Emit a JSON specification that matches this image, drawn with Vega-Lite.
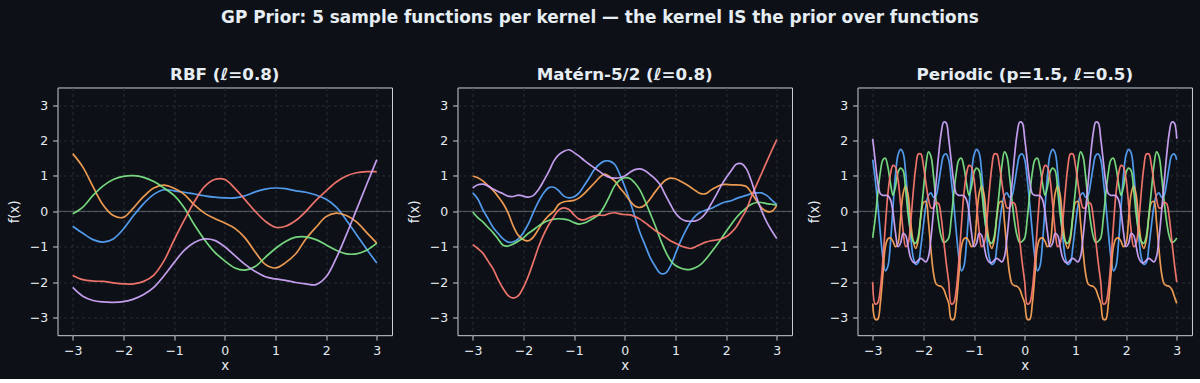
{
  "$schema": "https://vega.github.io/schema/vega-lite/v6.json",
  "background": "#0d1117",
  "padding": {"left": 6.5, "top": 8.5, "right": 6, "bottom": 6},
  "title": {
    "text": "GP Prior: 5 sample functions per kernel — the kernel IS the prior over functions",
    "anchor": "middle",
    "fontSize": 16.9,
    "offset": 39
  },
  "spacing": 65,
  "bounds": "flush",
  "datasets": {
    "rbf": [
      {"x": -3.0, "b": -0.42, "o": 1.63, "g": -0.07, "r": -1.81, "p": -2.15},
      {"x": -2.8, "b": -0.62, "o": 1.25, "g": 0.12, "r": -1.93, "p": -2.4},
      {"x": -2.6, "b": -0.8, "o": 0.7, "g": 0.45, "r": -1.97, "p": -2.52},
      {"x": -2.4, "b": -0.87, "o": 0.18, "g": 0.72, "r": -1.98, "p": -2.56},
      {"x": -2.2, "b": -0.78, "o": -0.12, "g": 0.9, "r": -2.02, "p": -2.57},
      {"x": -2.0, "b": -0.5, "o": -0.17, "g": 0.99, "r": -2.05, "p": -2.55},
      {"x": -1.8, "b": -0.12, "o": 0.1, "g": 1.01, "r": -2.05, "p": -2.48},
      {"x": -1.6, "b": 0.22, "o": 0.42, "g": 0.96, "r": -1.98, "p": -2.35},
      {"x": -1.4, "b": 0.48, "o": 0.66, "g": 0.84, "r": -1.8, "p": -2.15},
      {"x": -1.2, "b": 0.61, "o": 0.74, "g": 0.66, "r": -1.4, "p": -1.82},
      {"x": -1.0, "b": 0.58, "o": 0.65, "g": 0.45, "r": -0.81, "p": -1.45},
      {"x": -0.8, "b": 0.54, "o": 0.48, "g": 0.1, "r": -0.25, "p": -1.1},
      {"x": -0.6, "b": 0.49, "o": 0.18, "g": -0.38, "r": 0.27, "p": -0.88},
      {"x": -0.4, "b": 0.44, "o": -0.05, "g": -0.8, "r": 0.7, "p": -0.78},
      {"x": -0.2, "b": 0.4, "o": -0.2, "g": -1.15, "r": 0.9, "p": -0.82},
      {"x": 0.0, "b": 0.38, "o": -0.33, "g": -1.4, "r": 0.9, "p": -1.0},
      {"x": 0.2, "b": 0.38, "o": -0.48, "g": -1.6, "r": 0.65, "p": -1.25},
      {"x": 0.4, "b": 0.44, "o": -0.75, "g": -1.66, "r": 0.33, "p": -1.5},
      {"x": 0.6, "b": 0.55, "o": -1.15, "g": -1.56, "r": 0.0, "p": -1.7},
      {"x": 0.8, "b": 0.63, "o": -1.5, "g": -1.3, "r": -0.28, "p": -1.85},
      {"x": 1.0, "b": 0.66, "o": -1.6, "g": -1.05, "r": -0.45, "p": -1.91},
      {"x": 1.2, "b": 0.64, "o": -1.45, "g": -0.85, "r": -0.42, "p": -1.95},
      {"x": 1.4, "b": 0.58, "o": -1.2, "g": -0.73, "r": -0.26, "p": -2.01},
      {"x": 1.6, "b": 0.54, "o": -0.78, "g": -0.72, "r": 0.0, "p": -2.05},
      {"x": 1.8, "b": 0.46, "o": -0.45, "g": -0.8, "r": 0.31, "p": -2.07},
      {"x": 2.0, "b": 0.34, "o": -0.15, "g": -0.95, "r": 0.58, "p": -1.85},
      {"x": 2.2, "b": 0.12, "o": -0.05, "g": -1.1, "r": 0.83, "p": -1.32},
      {"x": 2.4, "b": -0.25, "o": -0.12, "g": -1.2, "r": 1.0, "p": -0.66},
      {"x": 2.6, "b": -0.66, "o": -0.3, "g": -1.2, "r": 1.09, "p": 0.05},
      {"x": 2.8, "b": -1.07, "o": -0.6, "g": -1.1, "r": 1.12, "p": 0.76},
      {"x": 3.0, "b": -1.46, "o": -0.9, "g": -0.9, "r": 1.12, "p": 1.46}
    ],
    "matern": [
      {"x": -3.0, "b": 0.52, "o": 1.0, "g": -0.02, "r": -0.94, "p": 0.66},
      {"x": -2.9, "b": 0.35, "o": 0.95, "g": -0.18, "r": -1.05, "p": 0.75},
      {"x": -2.8, "b": 0.05, "o": 0.86, "g": -0.3, "r": -1.18, "p": 0.77},
      {"x": -2.7, "b": -0.2, "o": 0.73, "g": -0.45, "r": -1.4, "p": 0.72},
      {"x": -2.6, "b": -0.45, "o": 0.6, "g": -0.6, "r": -1.62, "p": 0.63},
      {"x": -2.5, "b": -0.62, "o": 0.42, "g": -0.78, "r": -1.92, "p": 0.56},
      {"x": -2.4, "b": -0.78, "o": 0.22, "g": -0.96, "r": -2.18, "p": 0.5},
      {"x": -2.3, "b": -0.87, "o": -0.05, "g": -0.98, "r": -2.38, "p": 0.43},
      {"x": -2.2, "b": -0.86, "o": -0.42, "g": -0.92, "r": -2.45, "p": 0.42},
      {"x": -2.1, "b": -0.78, "o": -0.68, "g": -0.84, "r": -2.38, "p": 0.46},
      {"x": -2.0, "b": -0.6, "o": -0.8, "g": -0.75, "r": -2.15, "p": 0.43},
      {"x": -1.9, "b": -0.35, "o": -0.83, "g": -0.62, "r": -1.82, "p": 0.4},
      {"x": -1.8, "b": -0.02, "o": -0.72, "g": -0.52, "r": -1.42, "p": 0.45},
      {"x": -1.7, "b": 0.28, "o": -0.5, "g": -0.41, "r": -1.0, "p": 0.62},
      {"x": -1.6, "b": 0.52, "o": -0.28, "g": -0.32, "r": -0.66, "p": 0.86},
      {"x": -1.5, "b": 0.67, "o": -0.12, "g": -0.26, "r": -0.38, "p": 1.12},
      {"x": -1.4, "b": 0.68, "o": 0.0, "g": -0.22, "r": -0.15, "p": 1.42},
      {"x": -1.3, "b": 0.58, "o": 0.2, "g": -0.21, "r": 0.04, "p": 1.6},
      {"x": -1.2, "b": 0.43, "o": 0.27, "g": -0.22, "r": 0.1, "p": 1.7},
      {"x": -1.1, "b": 0.38, "o": 0.29, "g": -0.25, "r": 0.05, "p": 1.74},
      {"x": -1.0, "b": 0.41, "o": 0.31, "g": -0.32, "r": -0.1, "p": 1.66},
      {"x": -0.9, "b": 0.52, "o": 0.38, "g": -0.36, "r": -0.22, "p": 1.56},
      {"x": -0.8, "b": 0.73, "o": 0.5, "g": -0.33, "r": -0.24, "p": 1.44},
      {"x": -0.7, "b": 0.95, "o": 0.65, "g": -0.26, "r": -0.18, "p": 1.33},
      {"x": -0.6, "b": 1.18, "o": 0.8, "g": -0.18, "r": -0.13, "p": 1.23},
      {"x": -0.5, "b": 1.33, "o": 0.95, "g": -0.07, "r": -0.11, "p": 1.13},
      {"x": -0.4, "b": 1.42, "o": 1.05, "g": 0.15, "r": -0.11, "p": 1.03},
      {"x": -0.3, "b": 1.42, "o": 0.98, "g": 0.43, "r": -0.06, "p": 0.96},
      {"x": -0.2, "b": 1.33, "o": 0.86, "g": 0.72, "r": -0.04, "p": 0.94},
      {"x": -0.1, "b": 1.05, "o": 0.67, "g": 0.88, "r": -0.07, "p": 0.95},
      {"x": 0.0, "b": 0.7, "o": 0.5, "g": 0.95, "r": -0.09, "p": 1.0},
      {"x": 0.1, "b": 0.3, "o": 0.3, "g": 0.93, "r": -0.1, "p": 1.1},
      {"x": 0.2, "b": -0.15, "o": 0.15, "g": 0.8, "r": -0.15, "p": 1.18},
      {"x": 0.3, "b": -0.6, "o": 0.11, "g": 0.6, "r": -0.22, "p": 1.2},
      {"x": 0.4, "b": -0.95, "o": 0.18, "g": 0.3, "r": -0.32, "p": 1.15},
      {"x": 0.5, "b": -1.3, "o": 0.35, "g": -0.05, "r": -0.43, "p": 1.04},
      {"x": 0.6, "b": -1.55, "o": 0.55, "g": -0.4, "r": -0.54, "p": 0.92},
      {"x": 0.7, "b": -1.75, "o": 0.73, "g": -0.78, "r": -0.63, "p": 0.75},
      {"x": 0.8, "b": -1.75, "o": 0.88, "g": -1.12, "r": -0.73, "p": 0.47},
      {"x": 0.9, "b": -1.55, "o": 0.94, "g": -1.38, "r": -0.83, "p": 0.2},
      {"x": 1.0, "b": -1.2, "o": 0.92, "g": -1.53, "r": -0.9, "p": -0.05},
      {"x": 1.1, "b": -0.85, "o": 0.85, "g": -1.6, "r": -0.97, "p": -0.2},
      {"x": 1.2, "b": -0.55, "o": 0.77, "g": -1.64, "r": -1.02, "p": -0.27},
      {"x": 1.3, "b": -0.3, "o": 0.68, "g": -1.64, "r": -1.05, "p": -0.28},
      {"x": 1.4, "b": -0.12, "o": 0.58, "g": -1.59, "r": -1.0, "p": -0.27},
      {"x": 1.5, "b": -0.02, "o": 0.5, "g": -1.5, "r": -0.93, "p": -0.2},
      {"x": 1.6, "b": 0.04, "o": 0.5, "g": -1.35, "r": -0.87, "p": -0.05},
      {"x": 1.7, "b": 0.08, "o": 0.6, "g": -1.17, "r": -0.83, "p": 0.2},
      {"x": 1.8, "b": 0.15, "o": 0.68, "g": -0.98, "r": -0.81, "p": 0.45},
      {"x": 1.9, "b": 0.22, "o": 0.75, "g": -0.78, "r": -0.78, "p": 0.72},
      {"x": 2.0, "b": 0.27, "o": 0.76, "g": -0.57, "r": -0.72, "p": 0.95},
      {"x": 2.1, "b": 0.3, "o": 0.75, "g": -0.37, "r": -0.6, "p": 1.15},
      {"x": 2.2, "b": 0.36, "o": 0.75, "g": -0.18, "r": -0.44, "p": 1.33},
      {"x": 2.3, "b": 0.41, "o": 0.74, "g": -0.03, "r": -0.2, "p": 1.35},
      {"x": 2.4, "b": 0.45, "o": 0.7, "g": 0.1, "r": 0.05, "p": 1.2},
      {"x": 2.5, "b": 0.5, "o": 0.52, "g": 0.2, "r": 0.42, "p": 0.85},
      {"x": 2.6, "b": 0.52, "o": 0.3, "g": 0.25, "r": 0.75, "p": 0.4},
      {"x": 2.7, "b": 0.52, "o": 0.1, "g": 0.25, "r": 1.07, "p": 0.02},
      {"x": 2.8, "b": 0.45, "o": 0.0, "g": 0.22, "r": 1.4, "p": -0.3},
      {"x": 2.9, "b": 0.32, "o": 0.0, "g": 0.2, "r": 1.72, "p": -0.55},
      {"x": 3.0, "b": 0.19, "o": 0.17, "g": 0.18, "r": 2.03, "p": -0.77}
    ],
    "periodic": [
      {"x": -3.0, "b": 1.46, "o": -2.6, "g": -0.75, "r": -2.0, "p": 2.05},
      {"x": -2.95, "b": 0.9, "o": -3.05, "g": -0.2, "r": -2.62, "p": 1.42},
      {"x": -2.9, "b": 0.2, "o": -3.05, "g": 0.5, "r": -2.58, "p": 0.82},
      {"x": -2.85, "b": -0.6, "o": -2.6, "g": 1.1, "r": -2.2, "p": 0.5},
      {"x": -2.8, "b": -1.3, "o": -1.8, "g": 1.45, "r": -1.4, "p": 0.45},
      {"x": -2.75, "b": -1.68, "o": -1.0, "g": 1.5, "r": -0.4, "p": 0.45},
      {"x": -2.7, "b": -1.55, "o": -0.78, "g": 1.25, "r": 0.5, "p": 0.44},
      {"x": -2.65, "b": -0.9, "o": -0.75, "g": 0.8, "r": 1.05, "p": 0.33},
      {"x": -2.6, "b": 0.1, "o": -0.85, "g": 0.45, "r": 1.3, "p": -0.02},
      {"x": -2.55, "b": 1.05, "o": -1.0, "g": 0.7, "r": 1.25, "p": -0.6},
      {"x": -2.5, "b": 1.6, "o": -0.9, "g": 1.1, "r": 0.9, "p": -1.0},
      {"x": -2.45, "b": 1.75, "o": -0.2, "g": 1.22, "r": 0.2, "p": -0.9},
      {"x": -2.4, "b": 1.65, "o": 0.5, "g": 1.15, "r": -0.55, "p": -0.62},
      {"x": -2.35, "b": 1.1, "o": 0.72, "g": 0.6, "r": -1.0, "p": -0.68},
      {"x": -2.3, "b": 0.2, "o": 0.45, "g": -0.1, "r": -0.9, "p": -1.0},
      {"x": -2.25, "b": -0.7, "o": -0.3, "g": -0.6, "r": -0.3, "p": -1.32},
      {"x": -2.2, "b": -1.3, "o": -0.85, "g": -0.85, "r": 0.55, "p": -1.44},
      {"x": -2.15, "b": -1.5, "o": -1.05, "g": -0.9, "r": 1.25, "p": -1.45},
      {"x": -2.1, "b": -1.45, "o": -0.8, "g": -0.7, "r": 1.62, "p": -1.38},
      {"x": -2.05, "b": -1.0, "o": -0.15, "g": -0.1, "r": 1.62, "p": -1.33},
      {"x": -2.0, "b": -0.4, "o": 0.25, "g": 0.6, "r": 1.3, "p": -1.38},
      {"x": -1.95, "b": 0.15, "o": 0.28, "g": 1.3, "r": 0.8, "p": -1.43},
      {"x": -1.9, "b": 0.45, "o": -0.3, "g": 1.68, "r": 0.35, "p": -1.28},
      {"x": -1.85, "b": 0.52, "o": -1.1, "g": 1.55, "r": 0.1, "p": -0.75},
      {"x": -1.8, "b": 0.4, "o": -1.75, "g": 1.0, "r": 0.1, "p": 0.0},
      {"x": -1.75, "b": 0.45, "o": -2.05, "g": 0.3, "r": 0.25, "p": 0.8},
      {"x": -1.7, "b": 0.8, "o": -2.1, "g": -0.3, "r": 0.22, "p": 1.58},
      {"x": -1.65, "b": 1.25, "o": -2.12, "g": -0.7, "r": -0.15, "p": 2.2},
      {"x": -1.6, "b": 1.58, "o": -2.2, "g": -0.88, "r": -0.8, "p": 2.52},
      {"x": -1.55, "b": 1.62, "o": -2.4, "g": -0.85, "r": -1.45, "p": 2.5},
      {"x": -1.5, "b": 1.46, "o": -2.6, "g": -0.75, "r": -2.0, "p": 2.05},
      {"x": -1.45, "b": 0.9, "o": -3.05, "g": -0.2, "r": -2.62, "p": 1.42},
      {"x": -1.4, "b": 0.2, "o": -3.05, "g": 0.5, "r": -2.58, "p": 0.82},
      {"x": -1.35, "b": -0.6, "o": -2.6, "g": 1.1, "r": -2.2, "p": 0.5},
      {"x": -1.3, "b": -1.3, "o": -1.8, "g": 1.45, "r": -1.4, "p": 0.45},
      {"x": -1.25, "b": -1.68, "o": -1.0, "g": 1.5, "r": -0.4, "p": 0.45},
      {"x": -1.2, "b": -1.55, "o": -0.78, "g": 1.25, "r": 0.5, "p": 0.44},
      {"x": -1.15, "b": -0.9, "o": -0.75, "g": 0.8, "r": 1.05, "p": 0.33},
      {"x": -1.1, "b": 0.1, "o": -0.85, "g": 0.45, "r": 1.3, "p": -0.02},
      {"x": -1.05, "b": 1.05, "o": -1.0, "g": 0.7, "r": 1.25, "p": -0.6},
      {"x": -1.0, "b": 1.6, "o": -0.9, "g": 1.1, "r": 0.9, "p": -1.0},
      {"x": -0.95, "b": 1.75, "o": -0.2, "g": 1.22, "r": 0.2, "p": -0.9},
      {"x": -0.9, "b": 1.65, "o": 0.5, "g": 1.15, "r": -0.55, "p": -0.62},
      {"x": -0.85, "b": 1.1, "o": 0.72, "g": 0.6, "r": -1.0, "p": -0.68},
      {"x": -0.8, "b": 0.2, "o": 0.45, "g": -0.1, "r": -0.9, "p": -1.0},
      {"x": -0.75, "b": -0.7, "o": -0.3, "g": -0.6, "r": -0.3, "p": -1.32},
      {"x": -0.7, "b": -1.3, "o": -0.85, "g": -0.85, "r": 0.55, "p": -1.44},
      {"x": -0.65, "b": -1.5, "o": -1.05, "g": -0.9, "r": 1.25, "p": -1.45},
      {"x": -0.6, "b": -1.45, "o": -0.8, "g": -0.7, "r": 1.62, "p": -1.38},
      {"x": -0.55, "b": -1.0, "o": -0.15, "g": -0.1, "r": 1.62, "p": -1.33},
      {"x": -0.5, "b": -0.4, "o": 0.25, "g": 0.6, "r": 1.3, "p": -1.38},
      {"x": -0.45, "b": 0.15, "o": 0.28, "g": 1.3, "r": 0.8, "p": -1.43},
      {"x": -0.4, "b": 0.45, "o": -0.3, "g": 1.68, "r": 0.35, "p": -1.28},
      {"x": -0.35, "b": 0.52, "o": -1.1, "g": 1.55, "r": 0.1, "p": -0.75},
      {"x": -0.3, "b": 0.4, "o": -1.75, "g": 1.0, "r": 0.1, "p": 0.0},
      {"x": -0.25, "b": 0.45, "o": -2.05, "g": 0.3, "r": 0.25, "p": 0.8},
      {"x": -0.2, "b": 0.8, "o": -2.1, "g": -0.3, "r": 0.22, "p": 1.58},
      {"x": -0.15, "b": 1.25, "o": -2.12, "g": -0.7, "r": -0.15, "p": 2.2},
      {"x": -0.1, "b": 1.58, "o": -2.2, "g": -0.88, "r": -0.8, "p": 2.52},
      {"x": -0.05, "b": 1.62, "o": -2.4, "g": -0.85, "r": -1.45, "p": 2.5},
      {"x": 0.0, "b": 1.46, "o": -2.6, "g": -0.75, "r": -2.0, "p": 2.05},
      {"x": 0.05, "b": 0.9, "o": -3.05, "g": -0.2, "r": -2.62, "p": 1.42},
      {"x": 0.1, "b": 0.2, "o": -3.05, "g": 0.5, "r": -2.58, "p": 0.82},
      {"x": 0.15, "b": -0.6, "o": -2.6, "g": 1.1, "r": -2.2, "p": 0.5},
      {"x": 0.2, "b": -1.3, "o": -1.8, "g": 1.45, "r": -1.4, "p": 0.45},
      {"x": 0.25, "b": -1.68, "o": -1.0, "g": 1.5, "r": -0.4, "p": 0.45},
      {"x": 0.3, "b": -1.55, "o": -0.78, "g": 1.25, "r": 0.5, "p": 0.44},
      {"x": 0.35, "b": -0.9, "o": -0.75, "g": 0.8, "r": 1.05, "p": 0.33},
      {"x": 0.4, "b": 0.1, "o": -0.85, "g": 0.45, "r": 1.3, "p": -0.02},
      {"x": 0.45, "b": 1.05, "o": -1.0, "g": 0.7, "r": 1.25, "p": -0.6},
      {"x": 0.5, "b": 1.6, "o": -0.9, "g": 1.1, "r": 0.9, "p": -1.0},
      {"x": 0.55, "b": 1.75, "o": -0.2, "g": 1.22, "r": 0.2, "p": -0.9},
      {"x": 0.6, "b": 1.65, "o": 0.5, "g": 1.15, "r": -0.55, "p": -0.62},
      {"x": 0.65, "b": 1.1, "o": 0.72, "g": 0.6, "r": -1.0, "p": -0.68},
      {"x": 0.7, "b": 0.2, "o": 0.45, "g": -0.1, "r": -0.9, "p": -1.0},
      {"x": 0.75, "b": -0.7, "o": -0.3, "g": -0.6, "r": -0.3, "p": -1.32},
      {"x": 0.8, "b": -1.3, "o": -0.85, "g": -0.85, "r": 0.55, "p": -1.44},
      {"x": 0.85, "b": -1.5, "o": -1.05, "g": -0.9, "r": 1.25, "p": -1.45},
      {"x": 0.9, "b": -1.45, "o": -0.8, "g": -0.7, "r": 1.62, "p": -1.38},
      {"x": 0.95, "b": -1.0, "o": -0.15, "g": -0.1, "r": 1.62, "p": -1.33},
      {"x": 1.0, "b": -0.4, "o": 0.25, "g": 0.6, "r": 1.3, "p": -1.38},
      {"x": 1.05, "b": 0.15, "o": 0.28, "g": 1.3, "r": 0.8, "p": -1.43},
      {"x": 1.1, "b": 0.45, "o": -0.3, "g": 1.68, "r": 0.35, "p": -1.28},
      {"x": 1.15, "b": 0.52, "o": -1.1, "g": 1.55, "r": 0.1, "p": -0.75},
      {"x": 1.2, "b": 0.4, "o": -1.75, "g": 1.0, "r": 0.1, "p": 0.0},
      {"x": 1.25, "b": 0.45, "o": -2.05, "g": 0.3, "r": 0.25, "p": 0.8},
      {"x": 1.3, "b": 0.8, "o": -2.1, "g": -0.3, "r": 0.22, "p": 1.58},
      {"x": 1.35, "b": 1.25, "o": -2.12, "g": -0.7, "r": -0.15, "p": 2.2},
      {"x": 1.4, "b": 1.58, "o": -2.2, "g": -0.88, "r": -0.8, "p": 2.52},
      {"x": 1.45, "b": 1.62, "o": -2.4, "g": -0.85, "r": -1.45, "p": 2.5},
      {"x": 1.5, "b": 1.46, "o": -2.6, "g": -0.75, "r": -2.0, "p": 2.05},
      {"x": 1.55, "b": 0.9, "o": -3.05, "g": -0.2, "r": -2.62, "p": 1.42},
      {"x": 1.6, "b": 0.2, "o": -3.05, "g": 0.5, "r": -2.58, "p": 0.82},
      {"x": 1.65, "b": -0.6, "o": -2.6, "g": 1.1, "r": -2.2, "p": 0.5},
      {"x": 1.7, "b": -1.3, "o": -1.8, "g": 1.45, "r": -1.4, "p": 0.45},
      {"x": 1.75, "b": -1.68, "o": -1.0, "g": 1.5, "r": -0.4, "p": 0.45},
      {"x": 1.8, "b": -1.55, "o": -0.78, "g": 1.25, "r": 0.5, "p": 0.44},
      {"x": 1.85, "b": -0.9, "o": -0.75, "g": 0.8, "r": 1.05, "p": 0.33},
      {"x": 1.9, "b": 0.1, "o": -0.85, "g": 0.45, "r": 1.3, "p": -0.02},
      {"x": 1.95, "b": 1.05, "o": -1.0, "g": 0.7, "r": 1.25, "p": -0.6},
      {"x": 2.0, "b": 1.6, "o": -0.9, "g": 1.1, "r": 0.9, "p": -1.0},
      {"x": 2.05, "b": 1.75, "o": -0.2, "g": 1.22, "r": 0.2, "p": -0.9},
      {"x": 2.1, "b": 1.65, "o": 0.5, "g": 1.15, "r": -0.55, "p": -0.62},
      {"x": 2.15, "b": 1.1, "o": 0.72, "g": 0.6, "r": -1.0, "p": -0.68},
      {"x": 2.2, "b": 0.2, "o": 0.45, "g": -0.1, "r": -0.9, "p": -1.0},
      {"x": 2.25, "b": -0.7, "o": -0.3, "g": -0.6, "r": -0.3, "p": -1.32},
      {"x": 2.3, "b": -1.3, "o": -0.85, "g": -0.85, "r": 0.55, "p": -1.44},
      {"x": 2.35, "b": -1.5, "o": -1.05, "g": -0.9, "r": 1.25, "p": -1.45},
      {"x": 2.4, "b": -1.45, "o": -0.8, "g": -0.7, "r": 1.62, "p": -1.38},
      {"x": 2.45, "b": -1.0, "o": -0.15, "g": -0.1, "r": 1.62, "p": -1.33},
      {"x": 2.5, "b": -0.4, "o": 0.25, "g": 0.6, "r": 1.3, "p": -1.38},
      {"x": 2.55, "b": 0.15, "o": 0.28, "g": 1.3, "r": 0.8, "p": -1.43},
      {"x": 2.6, "b": 0.45, "o": -0.3, "g": 1.68, "r": 0.35, "p": -1.28},
      {"x": 2.65, "b": 0.52, "o": -1.1, "g": 1.55, "r": 0.1, "p": -0.75},
      {"x": 2.7, "b": 0.4, "o": -1.75, "g": 1.0, "r": 0.1, "p": 0.0},
      {"x": 2.75, "b": 0.45, "o": -2.05, "g": 0.3, "r": 0.25, "p": 0.8},
      {"x": 2.8, "b": 0.8, "o": -2.1, "g": -0.3, "r": 0.22, "p": 1.58},
      {"x": 2.85, "b": 1.25, "o": -2.12, "g": -0.7, "r": -0.15, "p": 2.2},
      {"x": 2.9, "b": 1.58, "o": -2.2, "g": -0.88, "r": -0.8, "p": 2.52},
      {"x": 2.95, "b": 1.62, "o": -2.4, "g": -0.85, "r": -1.45, "p": 2.5},
      {"x": 3.0, "b": 1.46, "o": -2.6, "g": -0.75, "r": -2.0, "p": 2.05}
    ]
  },
  "hconcat": [
    {
      "title": "RBF (ℓ=0.8)",
      "width": 334.5,
      "height": 247.7,
      "layer": [
        {
          "data": {"values": [{"level": 0}]},
          "mark": {"type": "rule", "color": "#8b949e", "strokeWidth": 1, "opacity": 0.6},
          "encoding": {"y": {"field": "level", "type": "quantitative", "scale": {"domain": [-3.5, 3.5], "nice": false, "zero": false}}}
        },
        {
          "data": {"name": "rbf"},
          "transform": [{"fold": ["b", "o", "g", "r", "p"], "as": ["s", "v"]}],
          "mark": {"type": "line", "strokeWidth": 1.7, "interpolate": "catmull-rom", "opacity": 0.92},
          "encoding": {
            "x": {"field": "x", "type": "quantitative", "title": "x", "scale": {"domain": [-3.3, 3.3], "nice": false, "zero": false}, "axis": {"values": [-3, -2, -1, 0, 1, 2, 3]}},
            "y": {"field": "v", "type": "quantitative", "title": "f(x)", "scale": {"domain": [-3.5, 3.5], "nice": false, "zero": false}, "axis": {"values": [-3, -2, -1, 0, 1, 2, 3]}},
            "color": {"field": "s", "type": "nominal", "legend": null, "scale": {"domain": ["b", "o", "g", "r", "p"], "range": ["#58a6ff", "#ffa657", "#7ee787", "#ff7b72", "#d2a8ff"]}}
          }
        }
      ]
    },
    {
      "title": "Matérn-5/2 (ℓ=0.8)",
      "width": 334.5,
      "height": 247.7,
      "layer": [
        {
          "data": {"values": [{"level": 0}]},
          "mark": {"type": "rule", "color": "#8b949e", "strokeWidth": 1, "opacity": 0.6},
          "encoding": {"y": {"field": "level", "type": "quantitative", "scale": {"domain": [-3.5, 3.5], "nice": false, "zero": false}}}
        },
        {
          "data": {"name": "matern"},
          "transform": [{"fold": ["b", "o", "g", "r", "p"], "as": ["s", "v"]}],
          "mark": {"type": "line", "strokeWidth": 1.7, "interpolate": "catmull-rom", "opacity": 0.92},
          "encoding": {
            "x": {"field": "x", "type": "quantitative", "title": "x", "scale": {"domain": [-3.3, 3.3], "nice": false, "zero": false}, "axis": {"values": [-3, -2, -1, 0, 1, 2, 3]}},
            "y": {"field": "v", "type": "quantitative", "title": "f(x)", "scale": {"domain": [-3.5, 3.5], "nice": false, "zero": false}, "axis": {"values": [-3, -2, -1, 0, 1, 2, 3]}},
            "color": {"field": "s", "type": "nominal", "legend": null, "scale": {"domain": ["b", "o", "g", "r", "p"], "range": ["#58a6ff", "#ffa657", "#7ee787", "#ff7b72", "#d2a8ff"]}}
          }
        }
      ]
    },
    {
      "title": "Periodic (p=1.5, ℓ=0.5)",
      "width": 334.5,
      "height": 247.7,
      "layer": [
        {
          "data": {"values": [{"level": 0}]},
          "mark": {"type": "rule", "color": "#8b949e", "strokeWidth": 1, "opacity": 0.6},
          "encoding": {"y": {"field": "level", "type": "quantitative", "scale": {"domain": [-3.5, 3.5], "nice": false, "zero": false}}}
        },
        {
          "data": {"name": "periodic"},
          "transform": [{"fold": ["b", "o", "g", "r", "p"], "as": ["s", "v"]}],
          "mark": {"type": "line", "strokeWidth": 1.7, "interpolate": "catmull-rom", "opacity": 0.92},
          "encoding": {
            "x": {"field": "x", "type": "quantitative", "title": "x", "scale": {"domain": [-3.3, 3.3], "nice": false, "zero": false}, "axis": {"values": [-3, -2, -1, 0, 1, 2, 3]}},
            "y": {"field": "v", "type": "quantitative", "title": "f(x)", "scale": {"domain": [-3.5, 3.5], "nice": false, "zero": false}, "axis": {"values": [-3, -2, -1, 0, 1, 2, 3]}},
            "color": {"field": "s", "type": "nominal", "legend": null, "scale": {"domain": ["b", "o", "g", "r", "p"], "range": ["#58a6ff", "#ffa657", "#7ee787", "#ff7b72", "#d2a8ff"]}}
          }
        }
      ]
    }
  ],
  "config": {
    "font": "DejaVu Sans",
    "view": {"fill": "#0d1117", "stroke": "#c9d1d9", "strokeWidth": 1},
    "axis": {
      "domain": false,
      "grid": true,
      "gridColor": "#30363d",
      "gridDash": [3, 3],
      "gridWidth": 0.8,
      "ticks": true,
      "tickColor": "#c9d1d9",
      "tickSize": 4.9,
      "labelColor": "#e6edf3",
      "labelFont": "DejaVu Sans",
      "labelFontSize": 12.5,
      "labelPadding": 4.9,
      "titleColor": "#e6edf3",
      "titleFont": "DejaVu Sans",
      "titleFontSize": 13.4,
      "titleFontWeight": "normal"
    },
    "axisX": {"titlePadding": 1.5},
    "axisY": {"titlePadding": 8},
    "title": {
      "color": "#e6edf3",
      "font": "DejaVu Sans",
      "fontSize": 16.7,
      "fontWeight": "bold",
      "offset": 4
    }
  }
}
